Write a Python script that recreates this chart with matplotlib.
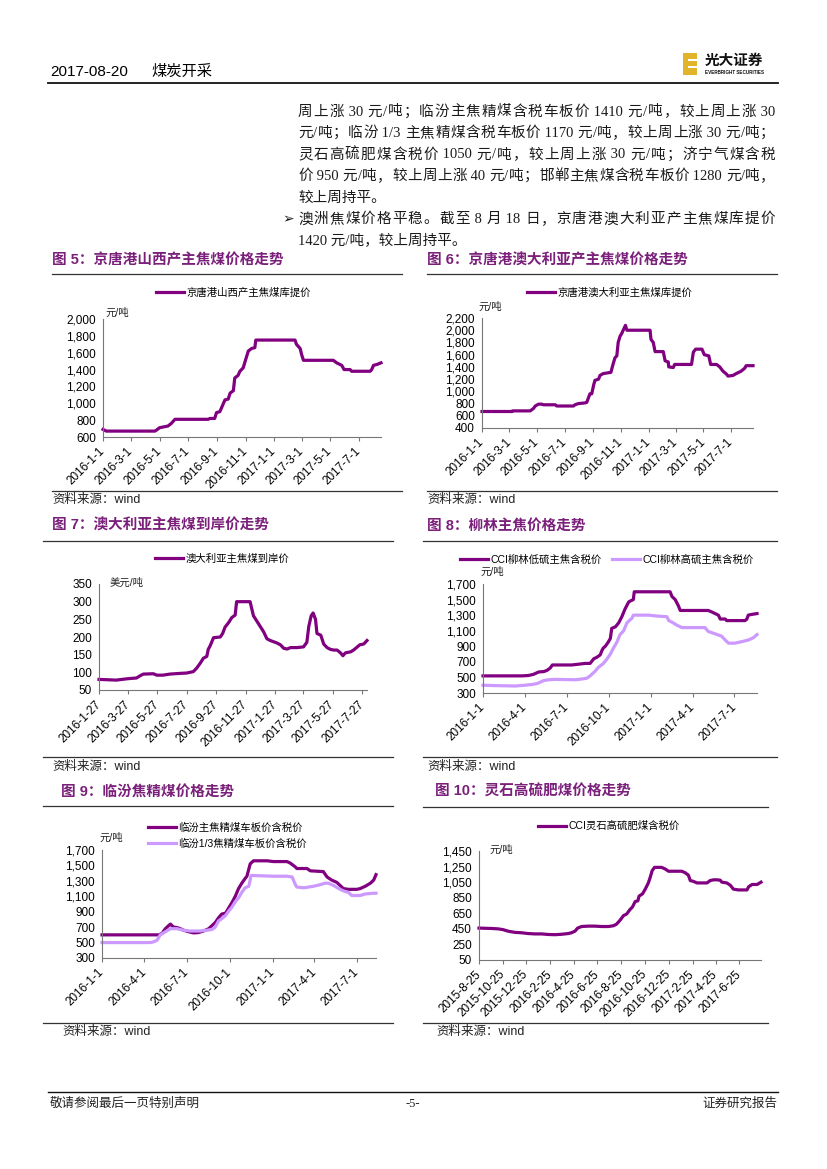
import re
import numpy as np
import pandas as pd
import matplotlib
matplotlib.use('Agg')
import matplotlib.pyplot as plt
from matplotlib.lines import Line2D
from matplotlib.patches import Rectangle
from matplotlib.ticker import FuncFormatter

plt.rcParams['font.family'] = ['Liberation Sans', 'Noto Sans CJK SC', 'DejaVu Sans']

# ---- data (days counted from each chart's first date) ----
# fig 5: 京唐港山西产主焦煤库提价, from 2016-01-01
sx_start = '2016-01-01'
sx_days = [0, 7, 111, 114, 121, 130, 139, 146, 154, 225, 229, 239, 243, 250, 254, 261, 268, 272,
           279, 282, 289, 293, 300, 306, 311, 318, 325, 327, 411, 414, 422, 425, 429, 493, 500,
           511, 516, 529, 532, 572, 575, 579, 586, 595]
sx_price = [690, 670, 670, 680, 710, 720, 730, 760, 810, 810, 820, 820, 890, 900, 950, 1040, 1050, 1120,
            1150, 1300, 1330, 1380, 1420, 1530, 1620, 1650, 1660, 1750, 1750, 1700, 1650, 1580, 1510, 1510, 1480,
            1450, 1400, 1400, 1380, 1380, 1400, 1450, 1460, 1480]

# fig 6: 京唐港澳大利亚主焦煤库提价, from 2016-01-01
au_start = '2016-01-01'
au_days = [0, 66, 67, 106, 113, 117, 124, 131, 135, 161, 164, 201, 204, 212, 226, 230, 234, 237, 241,
           245, 248, 256, 259, 266, 274, 283, 288, 292, 296, 299, 303, 307, 310, 315, 318, 369, 371,
           376, 380, 398, 402, 409, 410, 420, 423, 460, 464, 469, 483, 488, 498, 502, 515, 522, 529,
           537, 540, 551, 558, 569, 577, 580, 595]
au_price = [670, 670, 680, 680, 720, 760, 790, 790, 780, 780, 760, 760, 780, 800, 810, 820, 900, 960, 960,
            1100, 1180, 1200, 1260, 1290, 1300, 1310, 1450, 1550, 1580, 1800, 1900, 1950, 2000, 2080, 2000, 2000, 1850,
            1800, 1650, 1650, 1500, 1480, 1400, 1390, 1440, 1440, 1640, 1690, 1690, 1600, 1580, 1440, 1440, 1400, 1330,
            1280, 1250, 1260, 1290, 1330, 1380, 1420, 1420]

# fig 7: 澳大利亚主焦煤到岸价 (美元/吨), from 2016-01-27
cfr_start = '2016-01-27'
cfr_days = [0, 36, 60, 78, 85, 92, 113, 120, 133, 147, 168, 182, 196, 203, 210, 217, 224, 227, 231, 238,
            252, 257, 262, 269, 276, 283, 286, 314, 321, 328, 335, 342, 349, 356, 370, 377, 384, 391, 398,
            411, 425, 432, 436, 441, 445, 450, 453, 461, 467, 474, 481, 488, 495, 502, 507, 512, 523, 529,
            537, 542, 550, 557]
cfr_price = [80, 78, 82, 84, 90, 95, 96, 92, 92, 95, 97, 98, 102, 112, 125, 140, 145, 165, 175, 198,
             200, 210, 228, 240, 255, 262, 300, 300, 260, 245, 230, 215, 195, 190, 183, 178, 168, 166, 170,
             170, 172, 185, 230, 260, 268, 250, 210, 205, 180, 170, 165, 163, 163, 155, 147, 155, 158, 163,
             172, 178, 180, 190]

# fig 8: CCI柳林, from 2016-01-01
ll_start = '2016-01-01'
ll_low_days = [0, 85, 99, 110, 121, 132, 139, 146, 151, 193, 208, 222, 233, 241, 248, 255, 259, 262, 266,
               272, 277, 280, 288, 295, 302, 309, 317, 320, 327, 329, 407, 411, 418, 425, 429, 490, 498,
               505, 512, 516, 527, 530, 570, 574, 577, 585, 596]
ll_low_price = [520, 520, 525, 540, 570, 575, 590, 620, 660, 660, 670, 680, 680, 740, 760, 790, 850, 880, 900,
                950, 1000, 1130, 1150, 1200, 1280, 1380, 1470, 1480, 1500, 1600, 1600, 1540, 1500, 1420, 1360, 1360, 1340,
                1320, 1300, 1250, 1250, 1230, 1230, 1250, 1300, 1310, 1320]
ll_high_days = [0, 27, 70, 92, 107, 117, 125, 132, 143, 157, 201, 215, 226, 233, 244, 251, 262, 270, 277,
                284, 291, 298, 306, 313, 320, 324, 327, 360, 375, 400, 404, 411, 422, 433, 483, 490, 505,
                519, 527, 534, 548, 563, 577, 588, 596]
ll_high_price = [400, 395, 390, 400, 410, 420, 440, 460, 470, 475, 470, 480, 490, 520, 580, 630, 680, 740, 800,
                 880, 950, 1050, 1100, 1200, 1240, 1260, 1300, 1300, 1290, 1280, 1230, 1210, 1170, 1140, 1140, 1090, 1060,
                 1030, 980, 940, 940, 960, 980, 1010, 1050]

# fig 9: 临汾, from 2016-01-01
lf_start = '2016-01-01'
lf_main_days = [0, 122, 129, 136, 143, 147, 150, 154, 161, 168, 175, 186, 197, 207, 218, 229, 236, 243, 250,
                257, 265, 272, 279, 286, 293, 300, 307, 311, 318, 325, 354, 368, 397, 404, 415, 418, 440,
                447, 475, 483, 493, 504, 511, 518, 529, 547, 554, 565, 576, 583, 588]
lf_main_price = [600, 600, 620, 680, 720, 740, 720, 700, 695, 680, 660, 640, 625, 630, 650, 680, 720, 760, 820,
                 870, 880, 950, 1020, 1100, 1200, 1270, 1330, 1360, 1520, 1560, 1560, 1550, 1550, 1530, 1480, 1460, 1460,
                 1430, 1420, 1350, 1310, 1280, 1240, 1200, 1190, 1190, 1200, 1230, 1270, 1310, 1380]
lf_third_days = [0, 104, 111, 118, 125, 136, 147, 161, 175, 189, 211, 225, 236, 243, 250, 257, 265, 272, 279,
                 286, 293, 300, 307, 315, 320, 368, 397, 408, 415, 418, 433, 454, 468, 479, 486, 497, 508,
                 518, 529, 536, 554, 565, 583, 588]
lf_third_price = [500, 500, 510, 530, 600, 640, 680, 680, 660, 650, 650, 660, 670, 700, 780, 810, 850, 910, 960,
                  1030, 1080, 1150, 1210, 1230, 1370, 1360, 1360, 1350, 1250, 1220, 1210, 1230, 1250, 1270, 1270, 1240, 1200,
                  1170, 1150, 1110, 1110, 1130, 1140, 1140]

# fig 10: CCI灵石高硫肥煤, from 2015-08-25
ls_start = '2015-08-25'
ls_days = [0, 32, 49, 62, 75, 92, 109, 126, 144, 161, 178, 195, 212, 230, 238, 247, 254, 264, 281, 298,
           316, 333, 346, 354, 363, 372, 380, 389, 395, 402, 409, 412, 421, 428, 436, 440, 446, 452, 470,
           479, 488, 522, 531, 539, 544, 552, 561, 587, 595, 604, 612, 621, 625, 638, 647, 655, 668, 690,
           694, 703, 716, 726]
ls_price = [460, 455, 450, 440, 420, 405, 400, 390, 385, 385, 378, 375, 380, 390, 400, 420, 460, 480, 485, 485,
            480, 480, 490, 510, 560, 620, 640, 700, 730, 800, 810, 870, 900, 960, 1040, 1100, 1200, 1240, 1240,
            1220, 1190, 1190, 1170, 1140, 1070, 1060, 1040, 1040, 1070, 1080, 1080, 1075, 1050, 1040, 1010, 960, 950, 950,
            990, 1020, 1020, 1050]

ticks_2m = ['2016-1-1', '2016-3-1', '2016-5-1', '2016-7-1', '2016-9-1', '2016-11-1',
            '2017-1-1', '2017-3-1', '2017-5-1', '2017-7-1']
ticks_cfr = ['2016-1-27', '2016-3-27', '2016-5-27', '2016-7-27', '2016-9-27', '2016-11-27',
             '2017-1-27', '2017-3-27', '2017-5-27', '2017-7-27']
ticks_q = ['2016-1-1', '2016-4-1', '2016-7-1', '2016-10-1', '2017-1-1', '2017-4-1', '2017-7-1']
ticks_ls = ['2015-8-25', '2015-10-25', '2015-12-25', '2016-2-25', '2016-4-25', '2016-6-25',
            '2016-8-25', '2016-10-25', '2016-12-25', '2017-2-25', '2017-4-25', '2017-6-25']

body_lines = [
    '周上涨 30 元/吨；临汾主焦精煤含税车板价 1410 元/吨，较上周上涨 30',
    '元/吨；临汾 1/3 主焦精煤含税车板价 1170 元/吨，较上周上涨 30 元/吨；',
    '灵石高硫肥煤含税价 1050 元/吨，较上周上涨 30 元/吨；济宁气煤含税',
    '价 950 元/吨，较上周上涨 40 元/吨；邯郸主焦煤含税车板价 1280 元/吨，',
    '较上周持平。',
    '澳洲焦煤价格平稳。截至 8 月 18 日，京唐港澳大利亚产主焦煤库提价',
    '1420 元/吨，较上周持平。',
]

PURPLE = '#800080'
LILAC = '#CC99FF'
TITLE_C = '#7A1F7A'
W, H = 827, 1169

fig = plt.figure(figsize=(W / 100, H / 100), dpi=100)


def fx(x):
    return x / W


def fy(y):
    return 1 - y / H


def put(x, y, s, **kw):
    kw.setdefault('va', 'center')
    return fig.text(fx(x), fy(y), s, **kw)


def rule(y, x0, x1, lw=0.8, c='#333333'):
    fig.add_artist(Line2D([fx(x0), fx(x1)], [fy(y), fy(y)], transform=fig.transFigure,
                          color=c, lw=lw))


def justify(s, x0, x1, y, **kw):
    # spread the tokens of one line over the column width, like the report's justified text
    toks = re.findall(r' ?[A-Za-z0-9/.]+ ?|\S', s)
    r = fig.canvas.get_renderer()
    objs = [put(0, y, t, **kw) for t in toks]
    ws = [o.get_window_extent(r).width for o in objs]
    gap = ((x1 - x0) - sum(ws)) / (len(toks) - 1)
    x = x0
    for o, w in zip(objs, ws):
        o.set_x(fx(x))
        x += w + gap


def chart(rect, series, start, ylim, ystep, tick_labels, comma=True):
    l, t, r, b = rect
    ax = fig.add_axes([fx(l), fy(b), (r - l) / W, (b - t) / H])
    end = None
    for days, vals, color, lab in series:
        d = pd.Timestamp(start) + pd.to_timedelta(days, unit='D')
        ax.plot(d, vals, color=color, lw=2.3, label=lab, clip_on=False, solid_joinstyle='round')
        end = d[-1] if end is None else max(end, d[-1])
    ax.set_xlim(pd.Timestamp(start), end)
    ax.set_ylim(*ylim)
    ax.set_yticks(np.arange(ylim[0], ylim[1] + 1, ystep))
    if comma:
        ax.yaxis.set_major_formatter(FuncFormatter(lambda v, p: f'{v:,.0f}'))
    ax.set_xticks(pd.to_datetime(tick_labels))
    ax.set_xticklabels(tick_labels, rotation=45, ha='right', va='center', rotation_mode='anchor')
    for s in ['top', 'right']:
        ax.spines[s].set_visible(False)
    for s in ['left', 'bottom']:
        ax.spines[s].set_color('#777777')
        ax.spines[s].set_linewidth(0.8)
    ax.tick_params(axis='y', length=0, pad=5, labelsize=8.5)
    ax.tick_params(axis='x', length=3, pad=6, labelsize=8.5, color='#777777')
    ax.patch.set_alpha(0)
    return ax


def legend(ax, x, y, ncol=1):
    ax.legend(loc='center left', bbox_to_anchor=(fx(x), fy(y)), bbox_transform=fig.transFigure,
              frameon=False, ncol=ncol, handlelength=2.7, handletextpad=0.2,
              borderpad=0, borderaxespad=0, columnspacing=1.0, labelspacing=0.5,
              prop={'family': ['Liberation Sans', 'Noto Sans CJK SC'], 'size': 7.5})


# ---- header ----
put(50, 72, '2017-08-20', fontsize=11)
put(151, 72, '煤炭开采', fontsize=11)
rule(83, 48, 778, lw=1.3, c='#111111')
fig.add_artist(Rectangle((fx(683), fy(75)), 14 / W, 22 / H, transform=fig.transFigure,
                         color='#E2B42A', lw=0))
for yy in (60, 67):
    fig.add_artist(Rectangle((fx(688), fy(yy + 1.2)), 9 / W, 2.4 / H, transform=fig.transFigure,
                             color='white', lw=0))
put(705, 61, '光大证券', fontsize=10.5, fontweight='bold', color='#111111')
put(705, 73, 'EVERBRIGHT SECURITIES', fontsize=3.3, fontweight='bold', color='#111111')

# ---- body text ----
body_kw = dict(fontsize=10.5, color='#1a1a1a', family=['Liberation Serif', 'Noto Sans CJK SC'])
for i, line in enumerate(body_lines):
    y = 112 + 21.5 * i
    if line.endswith('。'):
        put(298, y, line, **body_kw)
    else:
        justify(line, 298, 775, y, **body_kw)
put(282, 112 + 21.5 * 5, '➢', fontsize=10, family=['DejaVu Sans'], color='#1a1a1a')

# ---- chart frames ----
title_kw = dict(fontsize=10.5, fontweight='bold', color=TITLE_C)
src_kw = dict(fontsize=9, color='#222222')
frames = [
    (52, 260, '图 5：京唐港山西产主焦煤价格走势', 274, 52, 402, 491, 52, 500),
    (427, 260, '图 6：京唐港澳大利亚产主焦煤价格走势', 274, 427, 777, 491, 427, 500),
    (52, 526, '图 7：澳大利亚主焦煤到岸价走势', 541, 43, 393, 757, 52, 767),
    (427, 526, '图 8：柳林主焦价格走势', 541, 423, 777, 757, 427, 767),
    (61, 792, '图 9：临汾焦精煤价格走势', 806, 43, 393, 1023, 62, 1032),
    (435, 792, '图 10：灵石高硫肥煤价格走势', 807, 423, 768, 1023, 436, 1032),
]
for tx, ty, title, ly, lx0, lx1, sy, sx, sty in frames:
    put(tx, ty, title, **title_kw)
    rule(ly, lx0, lx1, lw=0.9)
    rule(sy, lx0, lx1, lw=0.9)
    put(sx, sty, '资料来源：wind', **src_kw)

unit_kw = dict(fontsize=7.5, color='#222222')

# fig 5
ax5 = chart((103, 319, 381, 437), [(sx_days, sx_price, PURPLE, '京唐港山西产主焦煤库提价')],
            sx_start, (600, 2000), 200, ticks_2m)
legend(ax5, 156, 293)
put(105, 313, '元/吨', **unit_kw)

# fig 6
ax6 = chart((482, 318, 753, 428), [(au_days, au_price, PURPLE, '京唐港澳大利亚主焦煤库提价')],
            au_start, (400, 2200), 200, ticks_2m)
legend(ax6, 527, 293)
put(478, 307, '元/吨', **unit_kw)

# fig 7
ax7 = chart((99, 584, 367, 690), [(cfr_days, cfr_price, PURPLE, '澳大利亚主焦煤到岸价')],
            cfr_start, (50, 350), 50, ticks_cfr, comma=False)
legend(ax7, 155, 559)
put(110, 583, '美元/吨', **unit_kw)

# fig 8
ax8 = chart((483, 584, 757, 693),
            [(ll_low_days, ll_low_price, PURPLE, 'CCI柳林低硫主焦含税价'),
             (ll_high_days, ll_high_price, LILAC, 'CCI柳林高硫主焦含税价')],
            ll_start, (300, 1700), 200, ticks_q)
legend(ax8, 460, 560, ncol=2)
put(480, 572, '元/吨', **unit_kw)

# fig 9
ax9 = chart((102, 850, 376, 958),
            [(lf_main_days, lf_main_price, PURPLE, '临汾主焦精煤车板价含税价'),
             (lf_third_days, lf_third_price, LILAC, '临汾1/3焦精煤车板价含税价')],
            lf_start, (300, 1700), 200, ticks_q)
legend(ax9, 148, 835.5)
put(99, 838, '元/吨', **unit_kw)

# fig 10
ax10 = chart((479, 851, 761, 960), [(ls_days, ls_price, PURPLE, 'CCI灵石高硫肥煤含税价')],
             ls_start, (50, 1450), 200, ticks_ls)
legend(ax10, 538, 826)
put(489, 850, '元/吨', **unit_kw)

# ---- footer ----
rule(1092, 48, 778, lw=1.0, c='#111111')
put(50, 1104, '敬请参阅最后一页特别声明', fontsize=9, color='#222222')
put(413, 1104, '-5-', fontsize=9, ha='center', color='#222222',
    family=['Liberation Serif'])
put(777, 1104, '证券研究报告', fontsize=9, ha='right', color='#222222')

fig.savefig('out.png', dpi=100)
